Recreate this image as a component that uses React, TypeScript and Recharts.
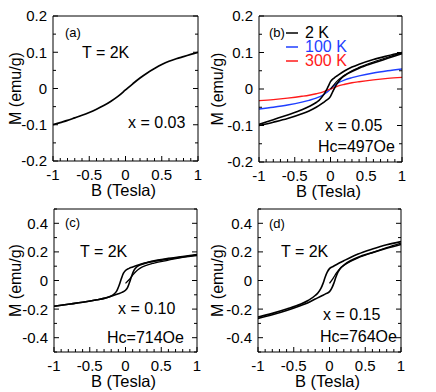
import { Legend, Line, LineChart, XAxis, YAxis } from "recharts";

// field values (Tesla)
const fieldA = [-1, -0.9, -0.8, -0.7, -0.6, -0.5, -0.4, -0.3, -0.2, -0.1, 0, 0.1, 0.2, 0.3, 0.4, 0.5, 0.6, 0.7, 0.8, 0.9, 1];
const fieldSweepDown = [-1, -0.8, -0.6, -0.4, -0.3, -0.2, -0.16, -0.12, -0.09, -0.06, -0.03, 0, 0.05, 0.1, 0.2, 0.3, 0.4, 0.6, 0.8, 1];
const fieldSweepUp = [-1, -0.8, -0.6, -0.4, -0.3, -0.2, -0.1, -0.05, 0, 0.03, 0.06, 0.09, 0.12, 0.16, 0.2, 0.3, 0.4, 0.6, 0.8, 1];
const fieldVirgin = [0, 0.05, 0.1, 0.15, 0.2, 0.3, 0.4, 0.6, 0.8, 1];
const fieldT = [-1, -0.8, -0.6, -0.4, -0.3, -0.2, -0.1, -0.05, 0, 0.05, 0.1, 0.2, 0.3, 0.4, 0.6, 0.8, 1];

// (a) x = 0.03
const momentA = [-0.1, -0.094, -0.088, -0.081, -0.074, -0.066, -0.057, -0.047, -0.035, -0.021, -0.004, 0.013, 0.029, 0.043, 0.055, 0.066, 0.075, 0.082, 0.088, 0.094, 0.1];

// (b) x = 0.05
const upperB = [-0.097, -0.084, -0.071, -0.057, -0.048, -0.037, -0.031, -0.022, -0.014, -0.004, 0.008, 0.02, 0.03, 0.037, 0.05, 0.06, 0.068, 0.081, 0.091, 0.1];
const lowerB = [-0.1, -0.091, -0.081, -0.068, -0.06, -0.05, -0.037, -0.03, -0.02, -0.008, 0.004, 0.014, 0.022, 0.031, 0.037, 0.048, 0.057, 0.071, 0.084, 0.097];
const virginB = [0, 0.012, 0.023, 0.031, 0.038, 0.05, 0.059, 0.074, 0.087, 0.099];
const moment100K = [-0.055, -0.05, -0.044, -0.036, -0.031, -0.025, -0.016, -0.009, 0, 0.009, 0.016, 0.025, 0.031, 0.036, 0.044, 0.05, 0.055];
const moment300K = [-0.032, -0.029, -0.025, -0.02, -0.017, -0.013, -0.008, -0.004, 0, 0.004, 0.008, 0.013, 0.017, 0.02, 0.025, 0.029, 0.032];

// (c) x = 0.10
const upperC = [-0.18, -0.166, -0.152, -0.135, -0.125, -0.108, -0.095, -0.07, -0.035, 0.01, 0.05, 0.07, 0.085, 0.095, 0.112, 0.126, 0.138, 0.155, 0.168, 0.182];
const lowerC = [-0.18, -0.166, -0.152, -0.135, -0.125, -0.11, -0.093, -0.083, -0.068, -0.048, -0.008, 0.037, 0.072, 0.096, 0.108, 0.124, 0.134, 0.15, 0.164, 0.176];
const virginC = [-0.02, 0.005, 0.038, 0.065, 0.085, 0.108, 0.122, 0.142, 0.162, 0.179];

// (d) x = 0.15
const upperD = [-0.255, -0.23, -0.2, -0.165, -0.14, -0.105, -0.085, -0.055, -0.02, 0.025, 0.06, 0.083, 0.098, 0.112, 0.138, 0.163, 0.185, 0.22, 0.25, 0.272];
const lowerD = [-0.265, -0.24, -0.21, -0.175, -0.155, -0.13, -0.105, -0.092, -0.078, -0.055, -0.02, 0.025, 0.06, 0.09, 0.108, 0.14, 0.163, 0.195, 0.225, 0.252];
const virginD = [-0.02, 0.015, 0.055, 0.085, 0.105, 0.135, 0.158, 0.195, 0.23, 0.262];

// ticks
const bTicks = [-1, -0.9, -0.8, -0.7, -0.6, -0.5, -0.4, -0.3, -0.2, -0.1, 0, 0.1, 0.2, 0.3, 0.4, 0.5, 0.6, 0.7, 0.8, 0.9, 1];
const bLabels = [-1, -0.5, 0, 0.5, 1];
const mTicksSmall = [-0.2, -0.15, -0.1, -0.05, 0, 0.05, 0.1, 0.15, 0.2];
const mLabelsSmall = [-0.2, -0.1, 0, 0.1, 0.2];
const mTicksLarge = [-0.5, -0.4, -0.3, -0.2, -0.1, 0, 0.1, 0.2, 0.3, 0.4, 0.5];
const mLabelsLarge = [-0.4, -0.2, 0, 0.2, 0.4];
const temps = ["2 K", "100 K", "300 K"];
const tempColors = ["#000000", "#1f3fff", "#ff1a1a"];

const W = 436;
const H = 392;
const FONT = "'Liberation Sans', Arial, sans-serif";

const zip = (f: number[], m: number[]) => f.map((b, i) => ({ b, m: m[i] }));

function makeTick(side: string, labels: number[]) {
  return function Tick(props: any) {
    const { x, y, payload } = props;
    const v = payload.value;
    const major = labels.includes(v);
    const len = major ? 5 : 3;
    let x2 = x;
    let y2 = y;
    if (side === "bottom") y2 = y - len;
    if (side === "top") y2 = y + len;
    if (side === "left") x2 = x + len;
    if (side === "right") x2 = x - len;
    return (
      <g>
        <line x1={x} y1={y} x2={x2} y2={y2} stroke="#000" strokeWidth={1} />
        {major && side === "bottom" && (
          <text x={x} y={y + 19} textAnchor="middle" fill="#000" fontSize={15} fontFamily={FONT}>
            {String(v)}
          </text>
        )}
        {major && side === "left" && (
          <text x={x - 6} y={y} dy="0.36em" textAnchor="end" fill="#000" fontSize={15} fontFamily={FONT}>
            {String(v)}
          </text>
        )}
      </g>
    );
  };
}

function XTitle({ viewBox }: any) {
  return (
    <text x={viewBox.x + viewBox.width / 2 - 2} y={viewBox.y + 35} textAnchor="middle" fill="#000" fontSize={16.5} fontFamily={FONT}>
      B (Tesla)
    </text>
  );
}

function YTitle({ viewBox, dx }: any) {
  const cx = viewBox.x + 1 + dx;
  const cy = viewBox.y + viewBox.height / 2;
  return (
    <text transform={`translate(${cx},${cy}) rotate(-90)`} dy="0.36em" textAnchor="middle" fill="#000" fontSize={16} fontFamily={FONT}>
      M (emu/g)
    </text>
  );
}

function frame(yTicks: number[], yLabels: number[], yDomain: number[], yTitleDx: number) {
  const common = {
    type: "number" as const,
    interval: 0 as const,
    tickLine: false,
    tickSize: 0,
    tickMargin: 0,
    axisLine: { stroke: "#000" },
    allowDataOverflow: true,
  };
  return [
    <XAxis key="xb" xAxisId="bottom" orientation="bottom" dataKey="b" domain={[-1, 1]} ticks={bTicks} height={1}
      tick={makeTick("bottom", bLabels)} {...common} label={<XTitle />} />,
    <XAxis key="xt" xAxisId="top" orientation="top" domain={[-1, 1]} ticks={bTicks} height={1}
      tick={makeTick("top", bLabels)} {...common} />,
    <YAxis key="yl" yAxisId="left" orientation="left" domain={yDomain} ticks={yTicks} width={1}
      tick={makeTick("left", yLabels)} {...common} label={<YTitle dx={yTitleDx} />} />,
    <YAxis key="yr" yAxisId="right" orientation="right" domain={yDomain} ticks={yTicks} width={1}
      tick={makeTick("right", yLabels)} {...common} />,
  ];
}

function TempLegend({ payload }: any) {
  const items = (payload || [])
    .filter((e: any) => temps.includes(e.value))
    .sort((a: any, b: any) => temps.indexOf(a.value) - temps.indexOf(b.value));
  return (
    <div style={{ fontSize: 16, fontFamily: FONT }}>
      {items.map((entry: any) => {
        const c = tempColors[temps.indexOf(entry.value)];
        return (
          <div key={entry.value} style={{ display: "flex", alignItems: "center", height: 14, color: c }}>
            <svg width={12} height={4} style={{ marginRight: 7 }}>
              <line x1={0} y1={2} x2={12} y2={2} stroke={c} strokeWidth={1.5} />
            </svg>
            <span>{entry.value}</span>
          </div>
        );
      })}
    </div>
  );
}

function Note({ left, cy, size = 16, children }: any) {
  return (
    <div style={{ position: "absolute", left, top: cy - 9, lineHeight: "18px", fontSize: size, whiteSpace: "nowrap" }}>
      {children}
    </div>
  );
}

const lineProps = {
  xAxisId: "bottom",
  yAxisId: "left",
  dataKey: "m",
  type: "monotone" as const,
  dot: false,
  isAnimationActive: false,
};

const layer = { position: "absolute" as const, left: 0, top: 0 };

export default function App() {
  return (
    <div style={{ position: "absolute", left: 0, top: 0, width: W, height: H, fontFamily: FONT, color: "#000", background: "#fff" }}>
      {/* (a) */}
      <div style={layer}>
        <LineChart width={W} height={H} margin={{ top: 15, right: 237, bottom: 230, left: 52 }}>
          {frame(mTicksSmall, mLabelsSmall, [-0.2, 0.2], -37.5)}
          <Line {...lineProps} data={zip(fieldA, momentA)} stroke="#000" strokeWidth={1.7} />
        </LineChart>
      </div>

      {/* (b) */}
      <div style={layer}>
        <LineChart width={W} height={H} margin={{ top: 15, right: 33, bottom: 229, left: 258 }}>
          {frame(mTicksSmall, mLabelsSmall, [-0.2, 0.2], -41.5)}
          <Line {...lineProps} data={zip(fieldT, moment100K)} stroke={tempColors[1]} strokeWidth={1.4} name="100 K" />
          <Line {...lineProps} data={zip(fieldT, moment300K)} stroke={tempColors[2]} strokeWidth={1.4} name="300 K" />
          <Line {...lineProps} data={zip(fieldSweepDown, upperB)} stroke="#000" strokeWidth={1.6} name="2 K" />
          <Line {...lineProps} data={zip(fieldSweepUp, lowerB)} stroke="#000" strokeWidth={1.6} legendType="none" />
          <Line {...lineProps} data={zip(fieldVirgin, virginB)} stroke="#000" strokeWidth={1.3} legendType="none" />
          <Legend content={TempLegend} layout="vertical" align="center" verticalAlign="middle"
            wrapperStyle={{ left: 286, top: 26, width: 100 }} />
        </LineChart>
      </div>

      {/* (c) */}
      <div style={layer}>
        <LineChart width={W} height={H} margin={{ top: 208, right: 238, bottom: 39, left: 53 }}>
          {frame(mTicksLarge, mLabelsLarge, [-0.5, 0.5], -38.5)}
          <Line {...lineProps} data={zip(fieldSweepDown, upperC)} stroke="#000" strokeWidth={1.6} />
          <Line {...lineProps} data={zip(fieldSweepUp, lowerC)} stroke="#000" strokeWidth={1.6} />
          <Line {...lineProps} data={zip(fieldVirgin, virginC)} stroke="#000" strokeWidth={1.3} />
        </LineChart>
      </div>

      {/* (d) */}
      <div style={layer}>
        <LineChart width={W} height={H} margin={{ top: 208, right: 34, bottom: 39, left: 257 }}>
          {frame(mTicksLarge, mLabelsLarge, [-0.5, 0.5], -40.5)}
          <Line {...lineProps} data={zip(fieldSweepDown, upperD)} stroke="#000" strokeWidth={1.6} />
          <Line {...lineProps} data={zip(fieldSweepUp, lowerD)} stroke="#000" strokeWidth={1.6} />
          <Line {...lineProps} data={zip(fieldVirgin, virginD)} stroke="#000" strokeWidth={1.3} />
        </LineChart>
      </div>

      <Note left={65} cy={33} size={13}>(a)</Note>
      <Note left={82} cy={53}>T = 2K</Note>
      <Note left={128} cy={123}>x = 0.03</Note>

      <Note left={269} cy={33} size={13}>(b)</Note>
      <Note left={325} cy={126}>x = 0.05</Note>
      <Note left={318} cy={147}>Hc=497Oe</Note>

      <Note left={65} cy={223} size={13}>(c)</Note>
      <Note left={80} cy={252}>T = 2K</Note>
      <Note left={118} cy={309}>x = 0.10</Note>
      <Note left={107} cy={338}>Hc=714Oe</Note>

      <Note left={269} cy={224} size={13}>(d)</Note>
      <Note left={281} cy={252}>T = 2K</Note>
      <Note left={323} cy={315}>x = 0.15</Note>
      <Note left={320} cy={337}>Hc=764Oe</Note>
    </div>
  );
}
